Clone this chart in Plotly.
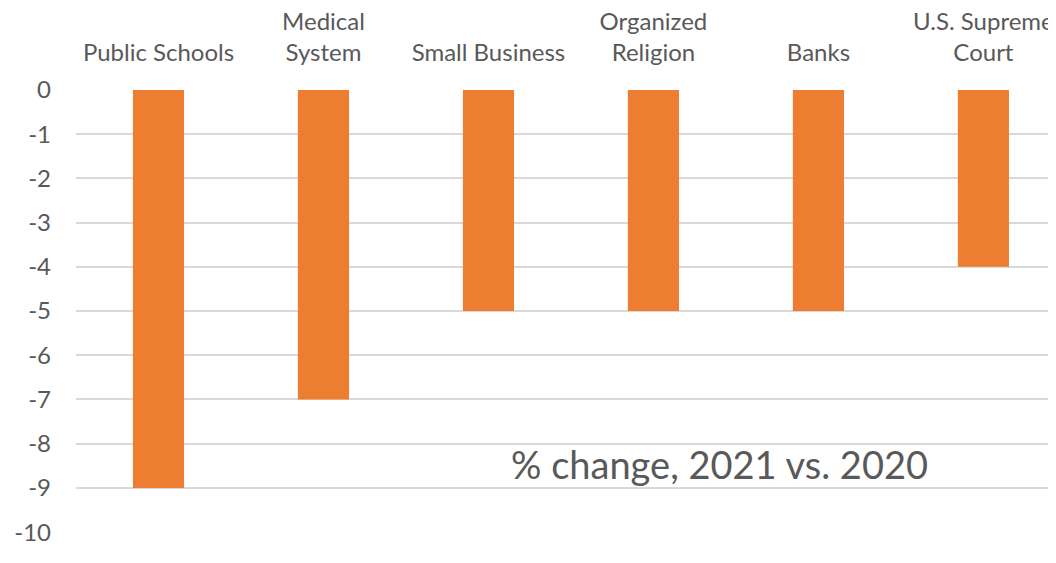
import plotly.graph_objects as go

categories = ["Public Schools", "Medical<br>System", "Small Business",
              "Organized<br>Religion", "Banks", "U.S. Supreme<br>Court"]
pct_change = [-9, -7, -5, -5, -5, -4]
y_ticks = [0, -1, -2, -3, -4, -5, -6, -7, -8, -9, -10]
y_tick_text = ["0", "-1", "-2", "-3", "-4", "-5", "-6", "-7", "-8", "-9", "-10"]

grey = "#595959"

fig = go.Figure()
fig.add_trace(go.Bar(
    x=list(range(len(categories))),
    y=pct_change,
    marker=dict(color="#ED7D31", line_width=0),
    width=0.31,
))

# page body has an 8px margin, so the figure is sized to the rest of the window
fig.update_layout(
    width=1048, height=555,
    margin=dict(l=68, r=0, t=81, b=30, autoexpand=False),
    plot_bgcolor="white", paper_bgcolor="white",
    font=dict(family="Lato, 'Open Sans', sans-serif", size=24, color=grey),
    showlegend=False,
    xaxis=dict(
        side="top",
        tickmode="array",
        tickvals=list(range(len(categories))),
        ticktext=categories,
        range=[-0.5, 5.44],
        showgrid=False, zeroline=False, showline=False,
        ticks="", ticklabelstandoff=22, automargin=False,
    ),
    yaxis=dict(
        range=[-10.02, 0.02],
        tickvals=y_ticks,
        ticktext=y_tick_text,
        showgrid=True, gridcolor="#d9d9d9", gridwidth=1.5,
        zeroline=False, showline=False,
        ticks="", ticklabelstandoff=24, automargin=False,
    ),
)

fig.add_annotation(
    x=3.4, y=-8.47, xref="x", yref="y",
    text="% change, 2021 vs. 2020",
    showarrow=False,
    font=dict(size=38, color=grey),
)

fig.write_html("out.html")
